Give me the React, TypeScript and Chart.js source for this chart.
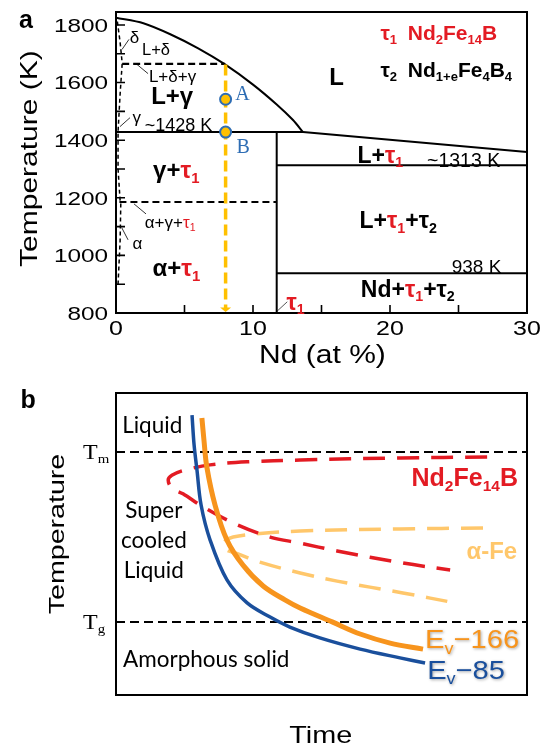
import React, { useEffect, useRef } from 'react';
import { Chart, registerables } from 'chart.js';

Chart.register(...registerables);

const SANS = '"Liberation Sans", Arial, Helvetica, sans-serif';
const SERIF = '"Liberation Serif", "Times New Roman", serif';
const HUMAN = 'Lato, "Open Sans", sans-serif';

const RED = '#e31b23';
const GOLD = '#ffc000';
const PT_BLUE = '#2e6db4';
const ORANGE = '#f7941d';
const NAVY = '#1a4f9c';
const LIGHT = '#ffc76b';

// ---------------- Panel a : phase diagram (Nd at %, Temperature K) ----------------
const ndTickLabels = [0, 10, 20, 30];
const ndTickMarks = [5, 10, 15, 20, 25];
const tempTickLabels = [800, 1000, 1200, 1400, 1600, 1800];
const tempTickMarks = [900, 1000, 1100, 1200, 1300, 1400, 1500, 1600, 1700, 1800];

const liquidusGamma = [[0, 1825], [2, 1806], [4, 1767], [6, 1719], [7.96, 1663], [10.0, 1593], [11.73, 1524], [12.92, 1470], [13.65, 1428]];
const liquidusTau1 = [[13.65, 1428], [30, 1359]];
const line1428 = [[0, 1428], [13.65, 1428]];
const tau1Line = [[11.73, 1428], [11.73, 800]];
const line1313 = [[11.73, 1313], [30, 1313]];
const line938 = [[11.73, 938], [30, 938]];
const peritectic = [[0.45, 1665], [7.96, 1665]];
const transition1185 = [[0.25, 1185], [11.73, 1185]];
const deltaBoundary = [[0.1, 1812], [0.3, 1740], [0.45, 1668]];
const gammaBoundary = [[0.45, 1665], [0.3, 1560], [0.15, 1430], [0.15, 1300], [0.3, 1190]];
const alphaBoundary = [[0.35, 1180], [0.3, 1050], [0.15, 900]];
const coolingPath = [[8.0, 1663], [8.0, 812]];
const pointsAB = [[8.0, 1542], [8.0, 1428]];
const leaderDelta = [[0.95, 1750], [0.44, 1715]];
const leaderLDG = [[2.34, 1631], [1.53, 1663]];
const leaderGamma = [[1.02, 1478], [0.29, 1447]];
const leaderAGT = [[2.19, 1144], [1.31, 1179]];
const leaderAlpha = [[0.88, 1054], [0.42, 1096]];
const leaderTau1 = [[12.5, 839], [11.73, 805]];

// ---------------- Panel b : cooling schematic (Time, Temperature, arbitrary units) ----------------
const tempTm = 80.5;
const tempTg = 24.2;
const ev85Curve = [[18.5, 92.7], [19.0, 82.8], [19.7, 74.5], [20.7, 62.9], [22.9, 51.3], [27.0, 38.1], [31.9, 30.5], [37.5, 25.8], [42.3, 22.5], [49.6, 18.9], [59.4, 15.2], [69.1, 12.3], [75.2, 10.6]];
const ev166Curve = [[20.9, 91.7], [21.4, 84.4], [22.1, 75.5], [24.1, 62.9], [27.0, 51.3], [30.9, 43.0], [35.8, 36.1], [41.1, 31.5], [44.8, 28.8], [52.6, 24.2], [59.4, 20.2], [66.7, 17.2], [74.7, 15.2]];
const nd2fe14bCurve = [[90.3, 78.8], [69.1, 78.5], [44.8, 77.8], [31.9, 77.2], [22.9, 76.2], [16.8, 74.5], [13.6, 72.8], [12.7, 71.2], [13.6, 68.5], [16.3, 66.6], [21.2, 62.3], [28.5, 57.0], [37.5, 52.3], [44.8, 50.3], [53.8, 47.7], [69.8, 43.7], [81.3, 41.4]];
const alphaFeCurve = [[89.3, 55.3], [69.1, 55.0], [44.8, 54.3], [33.8, 53.3], [28.5, 52.3], [26.5, 51.0], [26.0, 49.3], [26.8, 48.0], [29.7, 46.7], [35.0, 44.0], [44.8, 40.4], [53.8, 37.7], [69.8, 33.8], [82.5, 30.5]];

type Seg = [string, string?, string?];
interface Lbl {
  x: number; y: number; segs: Seg[] | string; size: number; bold?: boolean; color?: string;
  align?: 'left' | 'center' | 'right'; family?: string; sx?: number; rot?: number; shadow?: boolean;
}

function drawRich(ctx: CanvasRenderingContext2D, px: number, py: number, l: Lbl) {
  const segs: Seg[] = typeof l.segs === 'string' ? [[l.segs]] : l.segs;
  const fam = l.family ?? SANS;
  const wt = l.bold ? 'bold ' : '';
  const font = (sub: boolean) => `${wt}${sub ? l.size * 0.62 : l.size}px ${fam}`;
  ctx.save();
  ctx.translate(px, py);
  if (l.rot) ctx.rotate(l.rot);
  ctx.scale(l.sx ?? 1, 1);
  let total = 0;
  for (const s of segs) { ctx.font = font(!!s[2]); total += ctx.measureText(s[0]).width; }
  let cx = l.align === 'center' ? -total / 2 : l.align === 'right' ? -total : 0;
  const base = l.size * 0.36;
  ctx.textBaseline = 'alphabetic';
  ctx.textAlign = 'left';
  if (l.shadow) {
    ctx.shadowColor = 'rgba(0,0,0,0.35)';
    ctx.shadowBlur = 3;
    ctx.shadowOffsetX = 1;
    ctx.shadowOffsetY = 1;
  }
  for (const s of segs) {
    ctx.font = font(!!s[2]);
    ctx.fillStyle = s[1] || l.color || '#000';
    ctx.fillText(s[0], cx, s[2] ? base + l.size * 0.2 : base);
    cx += ctx.measureText(s[0]).width;
  }
  ctx.restore();
}

const tau1: Seg[] = [['τ', RED], ['1', RED, 'sub']];

const labelsA: Lbl[] = [
  { x: -6.57, y: 1820, segs: 'a', size: 25, bold: true, align: 'center' },
  { x: 16.1, y: 1621, segs: 'L', size: 24, bold: true, align: 'center' },
  { x: 19.3, y: 1774, segs: tau1, size: 21, bold: true },
  { x: 21.3, y: 1774, segs: [['Nd', RED], ['2', RED, 'sub'], ['Fe', RED], ['14', RED, 'sub'], ['B', RED]], size: 21, bold: true },
  { x: 19.3, y: 1645, segs: [['τ'], ['2', undefined, 'sub']], size: 21, bold: true },
  { x: 21.3, y: 1645, segs: [['Nd'], ['1+e', undefined, 'sub'], ['Fe'], ['4', undefined, 'sub'], ['B'], ['4', undefined, 'sub']], size: 21, bold: true },
  { x: 4.1, y: 1555, segs: 'L+γ', size: 24, bold: true, align: 'center' },
  { x: 2.1, y: 1456, segs: '~1428 K', size: 18 },
  { x: 1.9, y: 1718, segs: 'L+δ', size: 16.5 },
  { x: 1.0, y: 1757, segs: 'δ', size: 17 },
  { x: 2.4, y: 1623, segs: 'L+δ+γ', size: 17 },
  { x: 1.2, y: 1482, segs: 'γ', size: 17 },
  { x: 4.4, y: 1297, segs: [['γ+'], ...tau1], size: 24, bold: true, align: 'center' },
  { x: 4.4, y: 957, segs: [['α+'], ...tau1], size: 24, bold: true, align: 'center' },
  { x: 2.1, y: 1117, segs: [['α+γ+'], ...tau1], size: 17 },
  { x: 1.2, y: 1043, segs: 'α', size: 17 },
  { x: 19.3, y: 1350, segs: [['L+'], ...tau1], size: 23, bold: true, align: 'center' },
  { x: 22.7, y: 1330, segs: '~1313 K', size: 19.5 },
  { x: 20.6, y: 1123, segs: [['L+'], ...tau1, ['+τ'], ['2', undefined, 'sub']], size: 23, bold: true, align: 'center' },
  { x: 24.5, y: 963, segs: '938 K', size: 19 },
  { x: 21.3, y: 885, segs: [['Nd+'], ...tau1, ['+τ'], ['2', undefined, 'sub']], size: 23, bold: true, align: 'center' },
  { x: 13.1, y: 840, segs: tau1, size: 23, bold: true, align: 'center' },
  { x: 8.7, y: 1563, segs: 'A', size: 20, family: SERIF, color: PT_BLUE },
  { x: 8.8, y: 1381, segs: 'B', size: 20, family: SERIF, color: PT_BLUE },
  { x: -6.42, y: 1336, segs: 'Temperature (K)', size: 24, sx: 1.25, rot: -Math.PI / 2, align: 'center' },
  { x: 15.07, y: 659, segs: 'Nd (at %)', size: 25, sx: 1.2, align: 'center' },
];

const labelsB: Lbl[] = [
  { x: -21.4, y: 98.0, segs: 'b', size: 25, bold: true, align: 'center' },
  { x: 1.5, y: 89.4, segs: 'Liquid', size: 22.5, family: HUMAN },
  { x: 9.2, y: 61.3, segs: 'Super', size: 22.5, family: HUMAN, align: 'center' },
  { x: 9.2, y: 51.3, segs: 'cooled', size: 22.5, family: HUMAN, align: 'center' },
  { x: 9.2, y: 41.4, segs: 'Liquid', size: 22.5, family: HUMAN, align: 'center' },
  { x: 1.7, y: 11.9, segs: 'Amorphous solid', size: 22.5, family: HUMAN },
  { x: 97.8, y: 72.2, segs: [['Nd'], ['2', undefined, 'sub'], ['Fe'], ['14', undefined, 'sub'], ['B']], size: 25, bold: true, color: RED, align: 'right' },
  { x: 97.6, y: 48.0, segs: 'α-Fe', size: 24, bold: true, color: LIGHT, align: 'right' },
  { x: 75.2, y: 18.5, segs: [['E'], ['v', undefined, 'sub'], ['−166']], size: 26, sx: 1.12, color: ORANGE, shadow: true },
  { x: 75.7, y: 8.3, segs: [['E'], ['v', undefined, 'sub'], ['−85']], size: 26, sx: 1.12, color: NAVY, shadow: true },
  { x: -8.0, y: tempTm, segs: [['T'], ['m', undefined, 'sub']], size: 20, family: SERIF, sx: 1.2 },
  { x: -8.0, y: tempTg, segs: [['T'], ['g', undefined, 'sub']], size: 20, family: SERIF, sx: 1.2 },
  { x: -14.7, y: 53.3, segs: 'Temperature', size: 22, sx: 1.3, rot: -Math.PI / 2, align: 'center' },
  { x: 49.8, y: -12.9, segs: 'Time', size: 24, sx: 1.2, align: 'center' },
];

const pts = (a: number[][]) => a.map(([x, y]) => ({ x, y }));

function line(data: number[][], color: string, width: number, dash: number[] = [], tension = 0) {
  return {
    data: pts(data), showLine: true, borderColor: color, backgroundColor: color,
    borderWidth: width, borderDash: dash, pointRadius: 0, pointHoverRadius: 0,
    tension, fill: false, borderCapStyle: 'butt' as const,
  };
}

const panelAPlugin = {
  id: 'panelA',
  afterDraw(chart: any) {
    const { ctx, chartArea: ca, scales } = chart;
    const xs = scales.x, ys = scales.y;
    ctx.save();
    ctx.strokeStyle = '#000';
    ctx.lineWidth = 2;
    ctx.strokeRect(ca.left, ca.top, ca.right - ca.left, ca.bottom - ca.top);
    ctx.lineWidth = 1.6;
    ctx.beginPath();
    for (const v of tempTickMarks) { const p = ys.getPixelForValue(v); ctx.moveTo(ca.left, p); ctx.lineTo(ca.left + 9, p); }
    for (const v of ndTickMarks) { const p = xs.getPixelForValue(v); ctx.moveTo(p, ca.bottom); ctx.lineTo(p, ca.bottom - 8); }
    ctx.stroke();
    // arrow head of the cooling path
    const ax = xs.getPixelForValue(coolingPath[1][0]);
    const ay = ys.getPixelForValue(coolingPath[1][1]);
    const tip = ys.getPixelForValue(800) - 1;
    ctx.fillStyle = GOLD;
    ctx.beginPath();
    ctx.moveTo(ax - 5.5, ay - 2);
    ctx.lineTo(ax + 5.5, ay - 2);
    ctx.lineTo(ax, tip);
    ctx.closePath();
    ctx.fill();
    for (const v of tempTickLabels) drawRich(ctx, ca.left - 8, ys.getPixelForValue(v), { x: 0, y: 0, segs: String(v), size: 19, sx: 1.28, align: 'right' });
    for (const v of ndTickLabels) drawRich(ctx, xs.getPixelForValue(v), ca.bottom + 15, { x: 0, y: 0, segs: String(v), size: 20, sx: 1.25, align: 'center' });
    for (const l of labelsA) drawRich(ctx, xs.getPixelForValue(l.x), ys.getPixelForValue(l.y), l);
    ctx.restore();
  },
};

const panelBPlugin = {
  id: 'panelB',
  afterDraw(chart: any) {
    const { ctx, chartArea: ca, scales } = chart;
    ctx.save();
    ctx.strokeStyle = '#000';
    ctx.lineWidth = 2;
    ctx.strokeRect(ca.left, ca.top, ca.right - ca.left, ca.bottom - ca.top);
    for (const l of labelsB) drawRich(ctx, scales.x.getPixelForValue(l.x), scales.y.getPixelForValue(l.y), l);
    ctx.restore();
  },
};

function configA(): any {
  const black = '#000';
  const dashK = [7, 4];
  return {
    type: 'scatter',
    data: {
      datasets: [
        { ...line(pointsAB, GOLD, 0), showLine: false, pointRadius: 5.5, pointHoverRadius: 5.5, pointBackgroundColor: GOLD, pointBorderColor: PT_BLUE, pointBorderWidth: 2 },
        line(coolingPath, GOLD, 3.5, [11, 5]),
        line(liquidusGamma, black, 2, [], 0.3),
        line(liquidusTau1, black, 2),
        line(line1428, black, 2),
        line(tau1Line, black, 2),
        line(line1313, black, 2),
        line(line938, black, 2),
        line(peritectic, black, 2.2, dashK),
        line(transition1185, black, 2, dashK),
        line(deltaBoundary, black, 1.5, [4, 3]),
        line(gammaBoundary, black, 1.5, [4, 3]),
        line(alphaBoundary, black, 1.5, [4, 3]),
        line(leaderDelta, '#333', 1),
        line(leaderLDG, '#333', 1),
        line(leaderGamma, '#333', 1),
        line(leaderAGT, '#333', 1),
        line(leaderAlpha, '#333', 1),
        line(leaderTau1, '#555', 1),
      ],
    },
    options: {
      responsive: false, animation: false, events: [],
      layout: { padding: { left: 116, top: 12, right: 17, bottom: 57 } },
      scales: {
        x: { type: 'linear', min: 0, max: 30, display: false },
        y: { type: 'linear', min: 800, max: 1845, display: false },
      },
      plugins: { legend: { display: false }, tooltip: { enabled: false } },
    },
    plugins: [panelAPlugin],
  };
}

function configB(): any {
  const dashC = [22, 12];
  return {
    type: 'scatter',
    data: {
      datasets: [
        line(ev85Curve, NAVY, 3.5, [], 0.35),
        line(ev166Curve, ORANGE, 5, [], 0.35),
        line(nd2fe14bCurve, RED, 3.5, dashC, 0.35),
        line(alphaFeCurve, LIGHT, 3.5, dashC, 0.35),
        line([[0, tempTm], [100, tempTm]], '#000', 2, [9, 5]),
        line([[0, tempTg], [100, tempTg]], '#000', 2, [9, 5]),
      ],
    },
    options: {
      responsive: false, animation: false, events: [],
      layout: { padding: { left: 116, top: 23, right: 17, bottom: 53 } },
      scales: {
        x: { type: 'linear', min: 0, max: 100, display: false },
        y: { type: 'linear', min: 0, max: 100, display: false },
      },
      plugins: { legend: { display: false }, tooltip: { enabled: false } },
    },
    plugins: [panelBPlugin],
  };
}

export default function App() {
  const refA = useRef<HTMLCanvasElement>(null);
  const refB = useRef<HTMLCanvasElement>(null);
  useEffect(() => {
    const a = new Chart(refA.current!, configA());
    const b = new Chart(refB.current!, configB());
    return () => { a.destroy(); b.destroy(); };
  }, []);
  return (
    <div style={{ position: 'absolute', left: 0, top: 0, width: 544, height: 748, background: '#fff' }}>
      <canvas ref={refA} width={544} height={370} style={{ position: 'absolute', left: 0, top: 0 }} />
      <canvas ref={refB} width={544} height={378} style={{ position: 'absolute', left: 0, top: 370 }} />
    </div>
  );
}
